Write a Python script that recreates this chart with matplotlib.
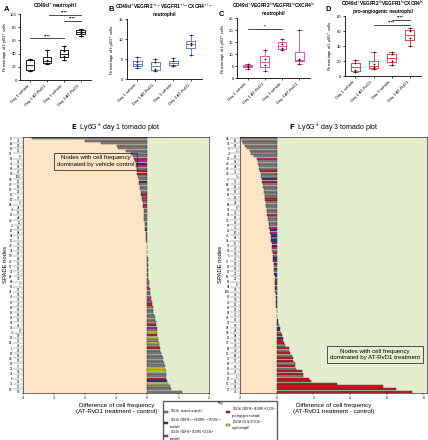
import matplotlib.pyplot as plt
from matplotlib.patches import Patch

plt.rcParams['font.family'] = ['Liberation Sans', 'DejaVu Sans']
plt.rcParams['mathtext.fontset'] = 'dejavusans'

# ---- box plot data (percentage of Ly6G+ cells) ----
groups = ['Day 1 vehicle', 'Day 1 AT-RvD1', 'Day 3 vehicle', 'Day 3 AT-RvD1']
a_vals = [[14, 16, 30, 32], [24, 26, 31, 45], [30, 36, 44, 52], [67, 71, 75, 78]]
b_vals = [[2.8, 3.5, 4.2, 5.6], [2.0, 2.5, 4.2, 5.0], [3.4, 3.6, 4.5, 5.2], [6.0, 8.5, 9.0, 11.0]]
c_vals = [[4.0, 4.8, 5.2, 6.0], [3.2, 5.5, 8.2, 12.0], [12.0, 12.5, 14.5, 16.5], [6.0, 7.5, 8.0, 20.0]]
d_vals = [[5, 8, 17, 21], [9, 12, 16, 32], [15, 20, 29, 32], [40, 51, 60, 64]]

# ---- tornado data (AT-RvD1 - control), top to bottom ----
e_diff = [-3.7, -2.0, -1.5, -0.98, -0.95, -0.68, -0.52, -0.45, -0.43, -0.39,
          -0.37, -0.35, -0.34, -0.33, -0.32, -0.30, -0.28, -0.27, -0.26, -0.24,
          -0.22, -0.21, -0.19, -0.17, -0.16, -0.15, -0.14, -0.13, -0.12, -0.12,
          -0.11, -0.10, -0.09, -0.08, -0.08, -0.07, -0.06, -0.05, -0.05, -0.04,
          -0.03, -0.02, -0.01, -0.01, -0.01, 0.0, 0.0, 0.01, 0.01, 0.01,
          0.02, 0.02, 0.03, 0.03, 0.03, 0.04, 0.05, 0.06, 0.07, 0.08,
          0.09, 0.10, 0.11, 0.13, 0.15, 0.16, 0.18, 0.19, 0.20, 0.22,
          0.24, 0.26, 0.27, 0.29, 0.30, 0.31, 0.32, 0.33, 0.34, 0.35,
          0.37, 0.38, 0.40, 0.42, 0.45, 0.47, 0.50, 0.52, 0.53, 0.56,
          0.58, 0.60, 0.61, 0.62, 0.62, 0.63, 0.68, 0.72, 0.75, 1.12]
e_type = ('gggggggg' 'mmbmgrrggbggggrgmgrmgggggggg' 'bgggggggg' 'rggggg'
          'ggggggggmgggmgrggggggg' 'rmgyrygygrggggggg' 'yygg' 'rbyggg')
e_nodes_left = [27, 68, 60, 35, 61, 73, 63, 90, 58, 49, 56, 82, 10, 94, 4, 81, 44, 2, 16, 38,
                17, 40, 21, 59, 42, 57, 93, 84, 88, 15, 24, 79, 83, 80, 62, 26, 14, 30, 3, 29,
                25, 1, 86, 54, 89, 33, 78, 6, 31, 52]
e_nodes_right = [41, 20, 76, 9, 37, 18, 47, 100, 12, 65, 22, 70, 5, 34, 91, 48, 11, 67, 98, 36,
                 45, 55, 87, 64, 39, 13, 71, 50, 7, 85, 97, 92, 43, 28, 66, 19, 74, 8, 99, 32,
                 46, 23, 69, 95, 77, 51, 72, 96, 75, 53]

f_diff = [-1.95, -1.87, -1.82, -1.76, -1.65, -1.45, -1.38, -1.22, -1.09, -1.03,
          -1.0, -0.98, -0.96, -0.9, -0.87, -0.84, -0.82, -0.80, -0.77, -0.74,
          -0.70, -0.68, -0.66, -0.64, -0.63, -0.61, -0.60, -0.58, -0.56, -0.54,
          -0.51, -0.49, -0.47, -0.45, -0.42, -0.40, -0.37, -0.35, -0.33, -0.31,
          -0.29, -0.27, -0.26, -0.25, -0.24, -0.22, -0.21, -0.20, -0.18, -0.17,
          -0.16, -0.15, -0.14, -0.13, -0.12, -0.11, -0.10, -0.09, -0.08, -0.08,
          -0.07, -0.06, -0.05, -0.04, -0.03, -0.02, -0.02, -0.01, 0.0, 0.01,
          0.03, 0.05, 0.08, 0.12, 0.15, 0.18, 0.22, 0.27, 0.32, 0.36,
          0.42, 0.45, 0.64, 0.68, 0.73, 0.82, 0.87, 0.90, 0.98, 1.02,
          1.05, 1.38, 1.42, 1.45, 1.73, 1.87, 3.27, 5.8, 6.5, 7.4]
f_type = ('ggggggggmggggrggbrggggggrgggggmggggmbmbgbrbmgrgbrb'
          'gbgbbgrbmbgbbgbmbgbgrbbgbbgrbr' 'rgrgrgrrgrgrrgrrrrrr')
f_nodes_left = [48, 37, 9, 4, 20, 44, 40, 53, 77, 64, 62, 61, 7, 88, 78, 23, 50, 87, 32, 45,
                74, 92, 81, 5, 75, 19, 96, 65, 13, 98, 100, 67, 79, 63, 18, 46, 93, 94, 58, 11,
                57, 69, 35, 76, 14, 86, 39, 29, 95, 27]
f_nodes_right = [16, 80, 2, 60, 36, 34, 31, 3, 73, 26, 85, 12, 24, 8, 42, 66, 90, 41, 10, 84,
                 17, 47, 54, 70, 52, 89, 33, 22, 6, 97, 30, 56, 15, 21, 71, 82, 59, 28, 38, 99,
                 43, 49, 68, 91, 83, 72, 1, 55, 25, 45]

type_colors = {'g': '#8a8a8a', 'b': '#23399a', 'm': '#e3208f', 'r': '#d5191f', 'y': '#e4e11e'}
key_labels = {
    'g': 'CD49d$^{+}$ classical neutrophil',
    'b': 'CD49d$^{+}$VEGFR2$^{+/-}$VEGFR1$^{+/-}$CXCR4$^{+/-}$\nneutrophil',
    'm': 'CD49d$^{+}$VEGFR2$^{lo}$VEGFR1$^{lo}$CXCR4$^{lo}$\nneutrophil',
    'r': 'CD49d$^{+}$VEGFR2$^{hi}$VEGFR1$^{hi}$CXCR4$^{hi}$\npro-angiogenic neutrophil',
    'y': 'CD49d$^{-}$CD11b$^{hi}$CXCR4$^{hi}$\naged neutrophil',
}

fig = plt.figure(figsize=(4.28, 4.40), dpi=100)


def box_panel(rect, vals, color, ymax, yticks, title, title_pad=2.5):
    ax = fig.add_axes(rect)
    line = dict(color=color, lw=0.6)
    ax.boxplot(vals, positions=[1, 2, 3, 4], widths=0.5, whis=(0, 100), showfliers=False,
               boxprops=line, medianprops=line, whiskerprops=line, capprops=line)
    for i, v in enumerate(vals):
        ax.scatter([i + 1] * len(v), v, s=1.5, c='k', zorder=3, linewidths=0)
    ax.set_xlim(0.4, 4.6)
    ax.set_ylim(0, ymax)
    ax.set_yticks(yticks)
    ax.set_xticks([1, 2, 3, 4])
    ax.set_xticklabels(groups, rotation=45, ha='right', fontsize=3)
    ax.tick_params(axis='y', labelsize=3.0, length=1.5, width=0.5, pad=1)
    ax.tick_params(axis='x', length=1.5, width=0.5, pad=1)
    for s in ['top', 'right']:
        ax.spines[s].set_visible(False)
    for s in ['left', 'bottom']:
        ax.spines[s].set_linewidth(0.6)
    ax.set_ylabel('Percentage of Ly6G$^{+}$ cells', fontsize=3.0, labelpad=1)
    ax.set_title(title, fontsize=3.4, fontweight='bold', pad=title_pad)
    return ax


def sig(ax, x1, x2, y, txt):
    ax.plot([x1, x2], [y, y], color='k', lw=0.5, clip_on=False)
    ax.text((x1 + x2) / 2, y, txt, ha='center', va='bottom', fontsize=3.2, fontweight='bold')


ax_a = box_panel([0.047, 0.818, 0.165, 0.150], a_vals, 'black', 100, [0, 20, 40, 60, 80, 100],
                 'CD49d$^{+}$ neutrophil', title_pad=4.5)
ax_a.yaxis.set_label_coords(-0.15, 0.5)
sig(ax_a, 1, 3, 63, '****')
sig(ax_a, 2.1, 4, 99, '****')
sig(ax_a, 3, 4, 90, '****')

box_panel([0.296, 0.820, 0.175, 0.136], b_vals, '#4a6fd0', 15, [0, 5, 10, 15],
          'CD49d$^{+}$VEGFR2$^{+/-}$VEGFR1$^{+/-}$CXCR4$^{+/-}$\nneutrophil')
ax_c = box_panel([0.554, 0.822, 0.170, 0.136], c_vals, '#e23ba4', 25, [0, 5, 10, 15, 20, 25],
                 'CD49d$^{+}$VEGFR2$^{lo}$VEGFR1$^{lo}$CXCR4$^{lo}$\nneutrophil')
sig(ax_c, 1, 3, 20.8, '*')
ax_d = box_panel([0.805, 0.827, 0.178, 0.136], d_vals, '#e8262b', 80, [0, 20, 40, 60, 80],
                 'CD49d$^{+}$VEGFR2$^{hi}$VEGFR1$^{hi}$CXCR4$^{hi}$\npro-angiogenic neutrophil')
sig(ax_d, 2, 4, 69, '****')
sig(ax_d, 3, 4, 75.5, '****')

for letter, x, y in [('A', 0.008, 0.978), ('B', 0.254, 0.978), ('C', 0.510, 0.966), ('D', 0.760, 0.978)]:
    fig.text(x, y, letter, fontsize=5.5, fontweight='bold', va='center')


def tornado(rect, diff, types, left_nodes, right_nodes, xlim, xticks, title, note, note_xy):
    ax = fig.add_axes(rect)
    n = len(diff)
    ax.axvspan(xlim[0], 0, color='#fde4c5', zorder=0)
    ax.axvspan(0, xlim[1], color='#e3eecf', zorder=0)
    ax.barh(range(n), diff, height=0.85, color=[type_colors[t] for t in types],
            edgecolor='#2a2a2a', linewidth=0.3, zorder=2)
    ax.set_xlim(*xlim)
    ax.set_ylim(n - 0.5, -0.5)
    ax.set_xticks(xticks)
    ax.set_xticklabels([str(t) for t in xticks], fontsize=2.5)
    ax.set_yticks(range(0, n, 2))
    ax.set_yticklabels([str(v) for v in left_nodes], fontsize=2.2)
    ax.set_yticks(range(1, n, 2), minor=True)
    ax.set_yticklabels([str(v) for v in right_nodes], minor=True, fontsize=2.2)
    ax.tick_params(axis='y', which='major', length=7, width=0.3, pad=0.5, color='#555555')
    ax.tick_params(axis='y', which='minor', length=1.5, width=0.3, pad=0.5, color='#555555')
    ax.tick_params(axis='x', length=1.5, width=0.3, pad=1)
    for s in ax.spines.values():
        s.set_linewidth(0.4)
    ax.set_ylabel('SPADE nodes', fontsize=4.2, labelpad=1)
    ax.set_xlabel('Difference of cell frequency\n(AT-RvD1 treatment - control)', fontsize=4.5,
                  labelpad=2, linespacing=1.3)
    ax.set_title(title, fontsize=5, pad=5)
    ax.text(note_xy[0], note_xy[1], note, transform=ax.transAxes, ha='center', va='center',
            fontsize=4.4, linespacing=1.4, zorder=5,
            bbox=dict(boxstyle='square,pad=0.45', fc='none', ec='#333333', lw=0.6))
    return ax


tornado([0.054, 0.107, 0.435, 0.582], e_diff, e_type, e_nodes_left, e_nodes_right,
        (-4, 2), [-4, -3, -2, -1, 0, 1, 2], r'$\bf{E}$  Ly6G$^{+}$ day 1 tornado plot',
        'Nodes with cell frequency\ndominated by vehicle control', (0.39, 0.905))
tornado([0.561, 0.107, 0.437, 0.582], f_diff, f_type, f_nodes_left, f_nodes_right,
        (-2, 8.2), [-2, 0, 2, 4, 6, 8], r'$\bf{F}$  Ly6G$^{+}$ day 3 tornado plot',
        'Nodes with cell frequency\ndominated by AT-RvD1 treatment', (0.72, 0.15))

handles = [Patch(facecolor=type_colors[k], edgecolor='#2a2a2a', linewidth=0.3) for k in 'gbmry']
fig.legend(handles, [key_labels[k] for k in 'gbmry'], ncol=2, loc='upper left',
           bbox_to_anchor=(0.378, 0.092), title='Key', title_fontsize=2.4, fontsize=1.8,
           frameon=True, edgecolor='#333333', fancybox=False, handlelength=1.8, handleheight=0.9,
           columnspacing=1.6, borderpad=0.25, labelspacing=0.12, handletextpad=0.6)

fig.savefig('out.png', dpi=100)
